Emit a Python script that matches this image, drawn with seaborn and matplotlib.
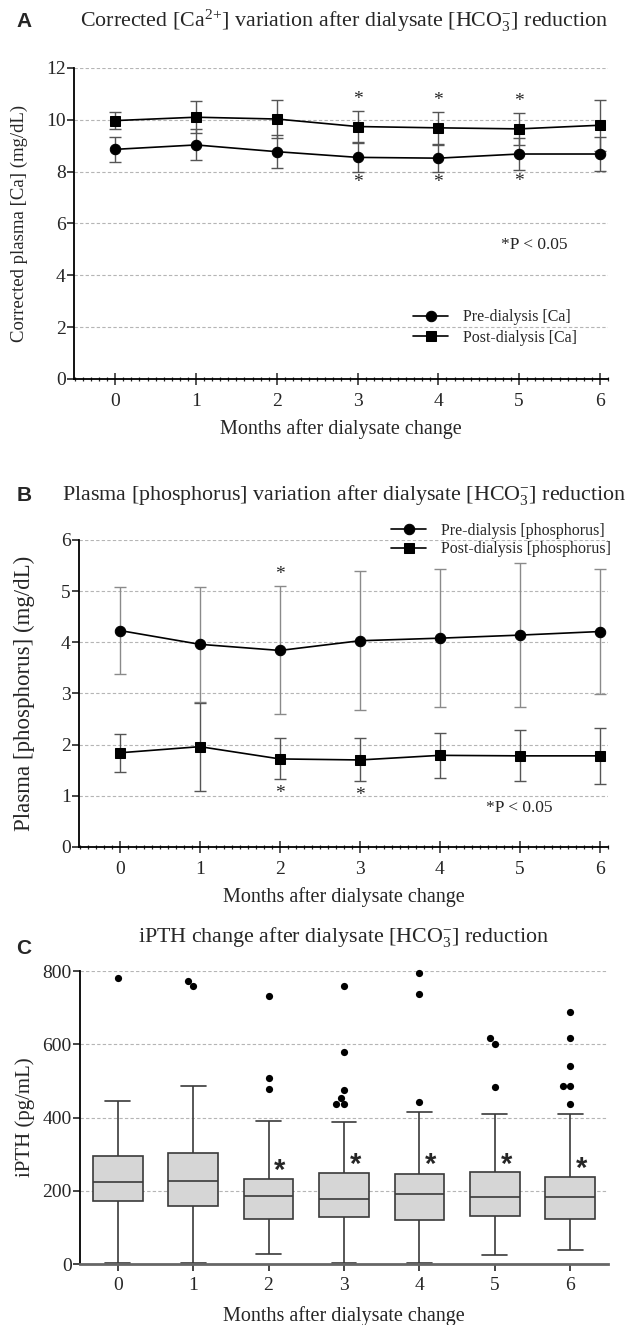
import numpy as np
import pandas as pd
import matplotlib
matplotlib.use("Agg")
import matplotlib.pyplot as plt
from matplotlib.ticker import MultipleLocator
import seaborn as sns

# ---------------- data ----------------
months = [0, 1, 2, 3, 4, 5, 6]

ca_pre_mean = [8.86, 9.03, 8.77, 8.55, 8.52, 8.68, 8.68]
ca_pre_sd = [0.48, 0.60, 0.64, 0.55, 0.52, 0.62, 0.65]
ca_post_mean = [9.97, 10.10, 10.03, 9.74, 9.69, 9.65, 9.79]
ca_post_sd = [0.34, 0.61, 0.72, 0.61, 0.62, 0.61, 0.98]

p_pre_mean = [4.23, 3.96, 3.84, 4.03, 4.08, 4.14, 4.21]
p_pre_sd = [0.85, 1.12, 1.25, 1.36, 1.35, 1.41, 1.22]
p_post_mean = [1.84, 1.96, 1.72, 1.70, 1.79, 1.78, 1.78]
p_post_sd = [0.37, 0.86, 0.40, 0.42, 0.44, 0.50, 0.55]

pth_whislo = [3, 3, 27, 3, 3, 26, 38]
pth_q1 = [171, 158, 123, 128, 119, 130, 123]
pth_median = [225, 228, 187, 179, 190, 182, 182]
pth_q3 = [294, 304, 232, 249, 247, 252, 238]
pth_whishi = [444, 487, 391, 388, 414, 409, 409]
pth_outliers = [
    [780],
    [759, 773],
    [477, 507, 733],
    [436, 436, 454, 474, 578, 759],
    [443, 738, 796],
    [484, 600, 616],
    [436, 485, 485, 542, 616, 687],
]

ca_sig = [3, 4, 5]
p_pre_sig = [2]
p_post_sig = [2, 3]
pth_sig = [2, 3, 4, 5, 6]
pth_sig_y = [277, 295, 295, 295, 284]

# ---------------- style ----------------
sns.set_theme(style="ticks")
plt.rcParams["font.family"] = ["Liberation Serif", "DejaVu Serif"]
plt.rcParams["mathtext.fontset"] = "custom"
plt.rcParams["mathtext.rm"] = "Liberation Serif"
plt.rcParams["mathtext.it"] = "Liberation Serif:italic"
plt.rcParams["mathtext.default"] = "rm"

fig = plt.figure(figsize=(6.3, 13.25), dpi=100)
axA = fig.add_axes([0.1175, 0.714, 0.8476, 0.2347])
axB = fig.add_axes([0.1254, 0.3608, 0.8397, 0.2317])
axC = fig.add_axes([0.127, 0.046, 0.838, 0.2211])

grid_kw = dict(color="#b5b5b5", linestyle=(0, (3, 2)), linewidth=0.8)
TICK_FS = 14
LAB_FS = 14.5
STAR_FS = 14


def line_panel(ax, pre_m, pre_sd, post_m, post_sd, labels, ylim, yticks, ecol_pre, ecol_post):
    df = pd.DataFrame({
        "month": months * 2,
        "value": list(pre_m) + list(post_m),
        "series": [labels[0]] * 7 + [labels[1]] * 7,
    })
    ax.errorbar(months, pre_m, yerr=pre_sd, fmt="none", ecolor=ecol_pre,
                elinewidth=1.0, capsize=4, capthick=1.0, zorder=2)
    ax.errorbar(months, post_m, yerr=post_sd, fmt="none", ecolor=ecol_post,
                elinewidth=1.0, capsize=4, capthick=1.0, zorder=2)
    sns.lineplot(data=df, x="month", y="value", hue="series", style="series",
                 markers={labels[0]: "o", labels[1]: "s"}, dashes=False,
                 palette={labels[0]: "black", labels[1]: "black"},
                 markersize=7.5, markeredgecolor="black", linewidth=1.2,
                 ax=ax, zorder=3)
    ax.set_ylim(*ylim)
    ax.set_yticks(yticks)
    ax.set_xlim(-0.51, 6.1)
    ax.set_xticks(months)
    ax.xaxis.set_minor_locator(MultipleLocator(0.1))
    for y in yticks[1:]:
        ax.axhline(y, zorder=0, **grid_kw)
    sns.despine(ax=ax)
    for s in ("left", "bottom"):
        ax.spines[s].set_linewidth(1.3)
        ax.spines[s].set_color("black")
    ax.tick_params(axis="y", direction="out", length=5, width=1.2, labelsize=TICK_FS, pad=1)
    ax.tick_params(axis="x", which="major", direction="inout", length=8, width=1.1,
                   labelsize=TICK_FS, pad=6)
    ax.tick_params(axis="x", which="minor", direction="inout", length=3, width=0.9)


# ---------------- Panel A ----------------
line_panel(axA, ca_pre_mean, ca_pre_sd, ca_post_mean, ca_post_sd,
           ["Pre-dialysis [Ca]", "Post-dialysis [Ca]"], (0, 12), [0, 2, 4, 6, 8, 10, 12],
           "#555555", "#555555")
for m in ca_sig:
    axA.text(m, ca_post_mean[m] + ca_post_sd[m] + 0.12, "*", ha="center", va="bottom",
             fontsize=STAR_FS)
    axA.text(m, ca_pre_mean[m] - ca_pre_sd[m] - 0.1, "*", ha="center", va="top",
             fontsize=STAR_FS)
axA.text(4.78, 5.15, "*P < 0.05", ha="left", va="center", fontsize=12.5)
axA.set_xlabel("Months after dialysate change", fontsize=LAB_FS)
axA.set_ylabel("Corrected plasma [Ca] (mg/dL)", fontsize=13.5)
axA.xaxis.set_label_coords(0.5, -0.13)
axA.yaxis.set_label_coords(-0.087, 0.5)
axA.legend(loc="center left", bbox_to_anchor=(0.62, 0.165), frameon=False, fontsize=11.5,
           handlelength=2.2, handletextpad=0.9, labelspacing=0.3, borderpad=0)

# ---------------- Panel B ----------------
line_panel(axB, p_pre_mean, p_pre_sd, p_post_mean, p_post_sd,
           ["Pre-dialysis [phosphorus]", "Post-dialysis [phosphorus]"], (0, 6),
           [0, 1, 2, 3, 4, 5, 6], "#8a8a8a", "#555555")
for m in p_pre_sig:
    axB.text(m, p_pre_mean[m] + p_pre_sd[m] + 0.07, "*", ha="center", va="bottom",
             fontsize=STAR_FS)
for m in p_post_sig:
    axB.text(m, p_post_mean[m] - p_post_sd[m] - 0.1, "*", ha="center", va="top",
             fontsize=STAR_FS)
axB.text(4.57, 0.76, "*P < 0.05", ha="left", va="center", fontsize=12.5)
axB.set_xlabel("Months after dialysate change", fontsize=LAB_FS)
axB.set_ylabel("Plasma [phosphorus] (mg/dL)", fontsize=16.5)
axB.xaxis.set_label_coords(0.5, -0.13)
axB.yaxis.set_label_coords(-0.083, 0.5)
axB.legend(loc="center left", bbox_to_anchor=(0.575, 1.0), frameon=False, fontsize=11.5,
           handlelength=2.2, handletextpad=0.9, labelspacing=0.15, borderpad=0)

# ---------------- Panel C ----------------
rows = []
for i, m in enumerate(months):
    for v in (pth_whislo[i], pth_q1[i], pth_median[i], pth_q3[i], pth_whishi[i]):
        rows.append({"month": str(m), "iPTH": v})
box_df = pd.DataFrame(rows)
out_df = pd.DataFrame([{"month": str(m), "iPTH": v}
                       for m, vals in zip(months, pth_outliers) for v in vals])
order = [str(m) for m in months]
for y in (200, 400, 600, 800):
    axC.axhline(y, zorder=0, **grid_kw)
sns.boxplot(data=box_df, x="month", y="iPTH", order=order, whis=(0, 100), width=0.66,
            color="#d6d6d6", saturation=1, linecolor="#3a3a3a", linewidth=1.2,
            showfliers=False, ax=axC, zorder=2)
sns.swarmplot(data=out_df, x="month", y="iPTH", order=order, color="black", size=5.2,
              ax=axC, zorder=3, clip_on=False)
axC.set_ylim(0, 800)
axC.set_yticks([0, 200, 400, 600, 800])
axC.set_xlim(-0.5, 6.5)
for m, y in zip(pth_sig, pth_sig_y):
    axC.text(m + 0.15, y - 45, "*", ha="center", va="baseline", fontsize=21,
             fontweight="bold", family=["Liberation Sans", "DejaVu Sans"])
sns.despine(ax=axC)
axC.spines["left"].set_linewidth(1.3)
axC.spines["left"].set_color("black")
axC.spines["bottom"].set_linewidth(2.0)
axC.spines["bottom"].set_color("#666666")
axC.tick_params(axis="y", direction="out", length=5, width=1.2, labelsize=TICK_FS, pad=1)
axC.tick_params(axis="x", direction="out", length=5, width=1.2, labelsize=TICK_FS, pad=4)
axC.set_xlabel("Months after dialysate change", fontsize=LAB_FS)
axC.set_ylabel("iPTH (pg/mL)", fontsize=15)
axC.xaxis.set_label_coords(0.5, -0.145)
axC.yaxis.set_label_coords(-0.085, 0.5)

# ---------------- titles ----------------
TITLE_FS = 15.8
fig.text(0.546, 0.984, r"Corrected [Ca$^{2}$$^{+}$] variation after dialysate [HCO$_3^{-}$] reduction",
         ha="center", va="center", fontsize=TITLE_FS)
fig.text(0.546, 0.6264, r"Plasma [phosphorus] variation after dialysate [HCO$_3^{-}$] reduction",
         ha="center", va="center", fontsize=TITLE_FS)
fig.text(0.546, 0.2928, r"iPTH change after dialysate [HCO$_3^{-}$] reduction",
         ha="center", va="center", fontsize=TITLE_FS)
for lab, y in (("A", 0.984), ("B", 0.6264), ("C", 0.2838)):
    fig.text(0.038, y, lab, ha="center", va="center", fontsize=15, fontweight="bold",
             family=["Liberation Sans", "DejaVu Sans"])

fig.savefig("out.png", dpi=100)
